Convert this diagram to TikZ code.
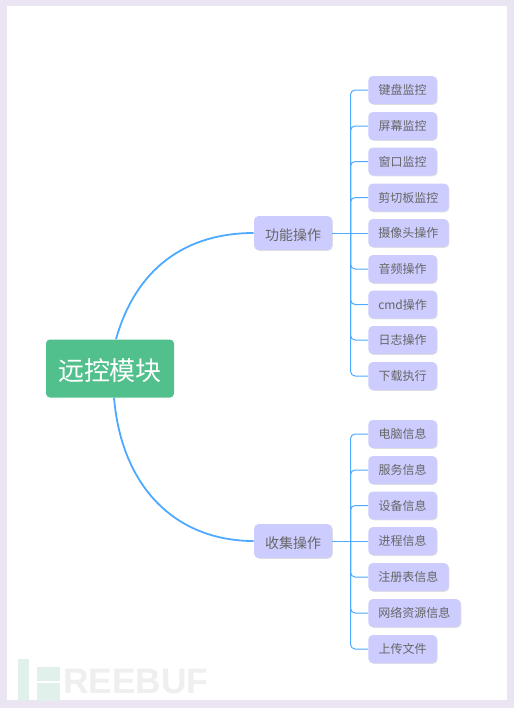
\documentclass[tikz,border=0pt]{standalone}
\usepackage{fontspec}
\setmainfont{Noto Sans CJK SC}
\newfontfamily\markfont{Liberation Sans}
\usetikzlibrary{calc,shadows}
\definecolor{mapFrame}{HTML}{EBE4F2}
\definecolor{mapGreen}{HTML}{52C08D}
\definecolor{mapLilac}{HTML}{CCCCFF}
\definecolor{mapBlue}{HTML}{4DAAFF}
\definecolor{mapInk}{HTML}{666666}
\definecolor{markGreen}{HTML}{E2F0EB}
\definecolor{markGray}{HTML}{EFEFEF}

\begin{document}
\begin{tikzpicture}[
  x=0.75pt,
  y=-0.75pt,
  curve/.style={draw=mapBlue, line width=1.35pt},
  line/.style={draw=mapBlue, line width=0.75pt, rounded corners=3.5pt},
  box/.style={
    rounded corners=3.5pt,
    fill=mapLilac,
    text=mapInk,
    align=center,
    inner sep=0pt,
    drop shadow={shadow xshift=0.6pt, shadow yshift=-0.6pt, opacity=0.12, fill=black}
  },
  rootbox/.style={
    rounded corners=3pt,
    fill=mapGreen,
    text=white,
    align=center,
    inner sep=0pt,
    minimum width=96pt,
    minimum height=43.5pt,
    text height=20.4pt,
    text depth=2pt,
    font=\fontsize{19.5pt}{23pt}\selectfont
  },
  topicbox/.style={box, minimum width=58.5pt, minimum height=25.5pt, text height=11.5pt, text depth=1pt, font=\fontsize{10.5pt}{13pt}\selectfont},
  leafbox/.style={box, anchor=west, minimum width=51.5pt, minimum height=21pt, text height=8.3pt, text depth=1pt, font=\fontsize{9pt}{11pt}\selectfont},
  leafmid/.style={leafbox, minimum width=60.25pt},
  leafwide/.style={leafbox, minimum width=69.25pt}
]
\useasboundingbox (0,0) rectangle (514,708);
\fill[mapFrame] (0,0) rectangle (514,708);
\fill[white] (7,6) rectangle (507,700);

% watermark
\fill[markGreen] (18,659) rectangle (29,701);
\fill[markGreen] (37,667) rectangle (60,681);
\fill[markGreen] (37,683) rectangle (60,701);
\node[anchor=west, inner sep=0pt, text=markGray, font=\markfont\bfseries\fontsize{26.5pt}{27pt}\selectfont] (mark) at (63,682) {REEBUF};

\node[rootbox]  (root)    at (110,368.5) {远控模块};
\node[topicbox] (func)    at (293,233)   {功能操作};
\node[topicbox] (collect) at (293,541)   {收集操作};

\node[leafbox]  (keyboard) at (368,90)    {键盘监控};
\node[leafbox]  (screen)   at (368,126)   {屏幕监控};
\node[leafbox]  (window)   at (368,161.5) {窗口监控};
\node[leafmid]  (clip)     at (368,197.5) {剪切板监控};
\node[leafmid]  (camera)   at (368,233)   {摄像头操作};
\node[leafbox]  (audio)    at (368,269)   {音频操作};
\node[leafbox]  (cmd)      at (368,304.5) {cmd操作};
\node[leafbox]  (logs)     at (368,340)   {日志操作};
\node[leafbox]  (download) at (368,376)   {下载执行};

\node[leafbox]  (computer) at (368,434)   {电脑信息};
\node[leafbox]  (service)  at (368,470)   {服务信息};
\node[leafbox]  (device)   at (368,505.5) {设备信息};
\node[leafbox]  (process)  at (368,541)   {进程信息};
\node[leafmid]  (registry) at (368,577)   {注册表信息};
\node[leafwide] (network)  at (368,613)   {网络资源信息};
\node[leafbox]  (upload)   at (368,649)   {上传文件};

\coordinate (spineA) at (350.5,233);
\coordinate (spineB) at (350.5,541);

\draw[curve] ($(root.north)+(6,0)$) .. controls (136,268) and (186,233) .. (func.west);
\draw[curve] ($(root.south)+(4,0)$) .. controls (122,490) and (178,541) .. (collect.west);

\draw[line] (func.east) -- (spineA);
\draw[line] (spineA) |- (keyboard.west);
\draw[line] (spineA) |- (screen.west);
\draw[line] (spineA) |- (window.west);
\draw[line] (spineA) |- (clip.west);
\draw[line] (spineA) -- (camera.west);
\draw[line] (spineA) |- (audio.west);
\draw[line] (spineA) |- (cmd.west);
\draw[line] (spineA) |- (logs.west);
\draw[line] (spineA) |- (download.west);

\draw[line] (collect.east) -- (spineB);
\draw[line] (spineB) |- (computer.west);
\draw[line] (spineB) |- (service.west);
\draw[line] (spineB) |- (device.west);
\draw[line] (spineB) -- (process.west);
\draw[line] (spineB) |- (registry.west);
\draw[line] (spineB) |- (network.west);
\draw[line] (spineB) |- (upload.west);
\end{tikzpicture}
\end{document}
